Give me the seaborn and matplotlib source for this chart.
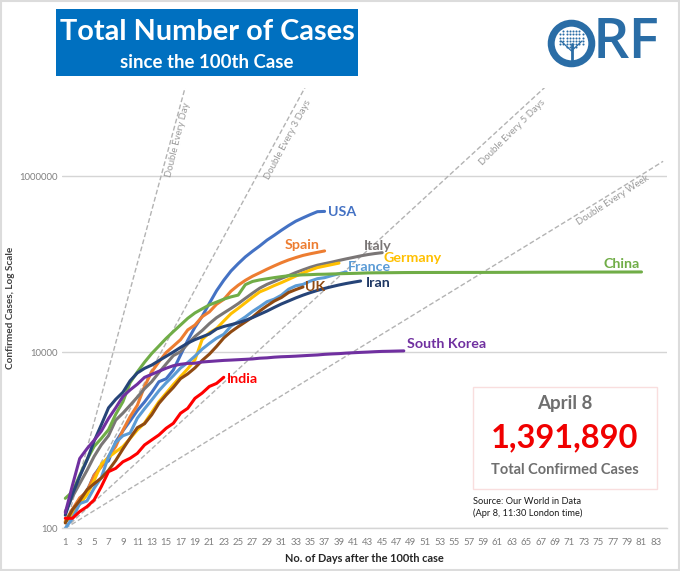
import numpy as np
import pandas as pd
import matplotlib.pyplot as plt
from matplotlib.patches import Rectangle, Circle
import seaborn as sns

# confirmed cases per day since the 100th case
usa = [118, 149, 217, 262, 402, 518, 583, 959, 1281, 1663, 2179, 2727, 3499, 4632, 5000, 6300, 9300, 13700,
       19273, 25600, 36000, 50000, 65778, 83836, 101657, 121478, 140886, 161807, 188172, 213372, 243453,
       275586, 308850, 337072, 366667, 396223, 399000]
spain = [120, 165, 222, 259, 400, 500, 650, 850, 1300, 1860, 2500, 4100, 6000, 7798, 9942, 11748, 13910, 17963,
         20410, 25374, 28768, 35136, 39885, 49515, 57786, 65719, 73235, 80110, 87956, 95923, 104118, 112065,
         119199, 126168, 131646, 136675, 141942]
italy = [155, 229, 322, 453, 655, 888, 1128, 1694, 2036, 2502, 3089, 3858, 4636, 5883, 7375, 9172, 10149, 12462,
         15113, 17660, 21157, 24747, 27980, 31506, 35713, 41035, 47021, 53578, 59138, 63927, 69176, 74386,
         80589, 86498, 92472, 97689, 101739, 105792, 110574, 115242, 119827, 124632, 128948, 132547, 135586]
germany = [117, 150, 188, 240, 349, 534, 640, 740, 850, 1050, 1310, 1570, 2080, 2750, 3430, 4300, 5300, 6500,
           8200, 13957, 16662, 18610, 22672, 27436, 31554, 36508, 42288, 48582, 52547, 57298, 61913, 67366,
           73522, 79696, 85778, 91714, 95391, 99225, 103228]
france = [100, 130, 191, 204, 285, 377, 653, 949, 1126, 1209, 1784, 2281, 2876, 3661, 4499, 5423, 6633, 7652,
          9043, 10871, 12612, 14459, 16018, 19856, 22304, 25233, 29155, 32964, 37575, 40174, 44550, 52128,
          56989, 59105, 64338, 68605, 70478, 74390, 78167, 82048]
uk = [115, 163, 206, 273, 321, 373, 456, 590, 797, 1061, 1391, 1543, 1950, 2626, 3269, 3983, 5018, 5683, 6650,
      8077, 9529, 11658, 14543, 17089, 19522, 22141, 25150, 29474, 33718, 38168, 41903, 47806, 51608, 55242]
iran = [141, 245, 388, 593, 978, 1501, 2336, 2922, 3513, 4747, 5823, 6566, 7161, 8042, 9000, 10075, 11364, 12729,
        13938, 14991, 16169, 18407, 19644, 20610, 21638, 23049, 24811, 27017, 29406, 32332, 35408, 38309,
        41495, 44605, 47593, 50468, 53183, 55743, 58226, 60500, 62589, 64586]
china = [219, 260, 400, 600, 850, 1050, 1320, 1975, 2744, 4515, 5974, 7711, 9692, 11791, 14380, 17205, 20438,
         24324, 28018, 31161, 34546, 37198, 40171, 42638, 44653, 58761, 63851, 66492, 68500, 70548, 72436,
         74185, 75002, 75891, 76288, 76936, 77150, 77658, 78064, 78497, 78824, 79251, 79824, 80026, 80151,
         80271, 80422, 80573, 80652, 80699, 80735, 80757, 80793, 80813, 80824, 80844, 80860, 80881, 80894,
         80928, 80967, 81008, 81054, 81093, 81171, 81218, 81285, 81340, 81394, 81439, 81470, 81518, 81554,
         81589, 81620, 81639, 81669, 81708, 81740, 81802, 81865]
korea = [150, 310, 620, 800, 1000, 1270, 1770, 2340, 3150, 3740, 4340, 5190, 5620, 6090, 6590, 7040, 7310, 7480,
         7510, 7760, 7870, 7980, 8090, 8160, 8240, 8320, 8410, 8570, 8650, 8800, 8900, 8960, 9040, 9140, 9240,
         9330, 9480, 9580, 9660, 9790, 9890, 9980, 10060, 10160, 10240, 10280, 10330, 10380]
india = [130, 130, 155, 176, 210, 298, 440, 480, 570, 625, 710, 885, 1010, 1150, 1370, 1560, 2030, 2310, 3000,
         3440, 4090, 4430, 5200]

# guide lines, one point per doubling
guide_day_x = [1, 18]
guide_day_y = [100, 13107200]
guide_2d_x = [1, 3, 5, 7, 9, 11, 13, 15, 17, 19, 21, 23, 25, 27, 29, 31, 33, 35]
guide_2d_y = [100, 200, 400, 800, 1600, 3200, 6400, 12800, 25600, 51200, 102400, 204800, 409600, 819200,
              1638400, 3276800, 6553600, 13107200]
guide_4d_x = [1, 5, 9, 13, 17, 21, 25, 29, 33, 37, 41, 45, 49, 53, 57, 61, 65, 69]
guide_4d_y = [100, 200, 400, 800, 1600, 3200, 6400, 12800, 25600, 51200, 102400, 204800, 409600, 819200,
              1638400, 3276800, 6553600, 13107200]
guide_6d_x = [1, 7, 13, 19, 25, 31, 37, 43, 49, 55, 61, 67, 73, 79, 84]
guide_6d_y = [100, 200, 400, 800, 1600, 3200, 6400, 12800, 25600, 51200, 102400, 204800, 409600, 819200, 1480000]

x_ticks = list(range(1, 84, 2))
y_ticks = [100, 10000, 1000000]
y_tick_labels = ['100', '10000', '1000000']

sns.set_theme(style='white')
plt.rcParams['font.family'] = ['Lato', 'DejaVu Sans']

fig = plt.figure(figsize=(6.8, 5.71), dpi=100)
ax = fig.add_axes([61.7 / 680, (571 - 528.3) / 571, 605 / 680, 440 / 571])

for gx, gy in [(guide_day_x, guide_day_y), (guide_2d_x, guide_2d_y),
               (guide_4d_x, guide_4d_y), (guide_6d_x, guide_6d_y)]:
    sns.lineplot(x=gx, y=gy, color='#b3b3b3', lw=1, ax=ax, estimator=None, sort=False,
                 linestyle=(0, (3.5, 1.8)))

series = [(usa, '#4472C4'), (spain, '#ED7D31'), (italy, '#7A7676'), (germany, '#FFC000'),
          (france, '#5B9BD5'), (uk, '#8F4A12'), (china, '#70AD47'), (iran, '#264478'),
          (korea, '#7030A0'), (india, '#FF0000')]
for vals, col in series:
    d = pd.DataFrame({'day': range(1, len(vals) + 1), 'cases': vals})
    sns.lineplot(data=d, x='day', y='cases', color=col, lw=2.2, ax=ax, estimator=None)

ax.set_yscale('log')
ax.set_xlim(0.5, 84.5)
ax.set_ylim(100, 1e7)
ax.set_xticks(x_ticks)
ax.set_yticks(y_ticks)
ax.set_yticklabels(y_tick_labels)
ax.minorticks_off()
ax.tick_params(axis='both', length=0, labelsize=6.9, labelcolor='#7f7f7f')
ax.tick_params(axis='x', pad=7)
ax.tick_params(axis='y', pad=3)
ax.grid(axis='y', color='#d5d5d5', lw=1)
ax.set_axisbelow(True)
sns.despine(ax=ax, left=True)
ax.spines['bottom'].set_color('#d5d5d5')
ax.spines['bottom'].set_linewidth(1)
ax.set_xlabel('No. of Days after the 100th case', fontsize=7.9, fontweight='bold', color='#262626')
ax.set_ylabel('Confirmed Cases, Log Scale', fontsize=7.2, fontweight='bold', color='#404040')
ax.xaxis.set_label_coords(0.5, -0.056)
ax.yaxis.set_label_coords(-0.077, 0.5)

# overlay in pixel coordinates for the title, labels and logo
ov = fig.add_axes([0, 0, 1, 1], facecolor='none')
ov.set_xlim(0, 680)
ov.set_ylim(571, 0)
ov.axis('off')

ov.add_patch(Rectangle((0.5, 0.5), 678, 569, fc='none', ec='#dcdcdc', lw=1.5))
ov.add_patch(Rectangle((56, 8.7), 301.5, 67.3, fc='#0070C0', ec='none'))
ov.text(207, 31.5, 'Total Number of Cases', color='white', fontsize=20.8, fontweight='bold', ha='center', va='center')
ov.text(207, 62.5, 'since the 100th Case', color='white', fontsize=13.4, fontweight='bold', ha='center', va='center')

# logo
logo = '#2A6DA6'
ov.add_patch(Circle((571.5, 43.5), 20.3, fc='white', ec=logo, lw=5))
gx, gy = np.meshgrid(np.arange(557, 587, 3.2), np.arange(28, 50, 3.2))
keep = (gx - 571.5) ** 2 + ((gy - 38.5) / 0.75) ** 2 < 14 ** 2
ov.scatter(gx[keep], gy[keep], s=2.2, color=logo, lw=0)
ov.plot([571.5, 571.5], [44, 60], color=logo, lw=2)
ov.plot([561, 571.5, 582], [41, 51, 41], color=logo, lw=0.9)
ov.text(593, 44, 'RF', color=logo, fontsize=41, fontweight='semibold', ha='left', va='center',
        family=['Open Sans', 'DejaVu Sans'])

# series labels
labels = [('USA', 342, 212, '#4472C4'), ('Spain', 302.5, 245, '#ED7D31'), ('Italy', 377.5, 246, '#7A7676'),
          ('Germany', 413, 258, '#FFC000'), ('France', 369.5, 267, '#5B9BD5'), ('Iran', 378, 283, '#1F3864'),
          ('UK', 315, 287, '#8F4A12'), ('China', 621.5, 264, '#70AD47'), ('South Korea', 447, 344, '#7030A0'),
          ('India', 242, 379, '#FF0000')]
for txt, px, py, col in labels:
    ov.text(px, py, txt, color=col, fontsize=10.3, fontweight='bold', ha='center', va='center')

# guide line labels
for txt, px, py, rot in [('Double Every Day', 178, 140, 76), ('Double Every 3 Days', 288, 140, 62),
                         ('Double Every 5 Days', 512, 132, 45), ('Double Every Week', 613, 200, 33)]:
    ov.text(px, py, txt, color='#9a9a9a', fontsize=6.9, rotation=rot, rotation_mode='anchor',
            ha='center', va='center')

# total box
ov.add_patch(Rectangle((472.7, 386.7), 184.6, 102.3, fc='white', ec='#f9dede', lw=1))
ov.text(565, 403.5, 'April 8', color='#6f6f6f', fontsize=13.5, fontweight='bold', ha='center', va='center')
ov.text(565, 438, '1,391,890', color='#F00000', fontsize=23.5, fontweight='bold', ha='center', va='center')
ov.text(565, 470, 'Total Confirmed Cases', color='#6f6f6f', fontsize=10.5, fontweight='bold', ha='center', va='center')
ov.text(472.7, 501, 'Source: Our World in Data', color='#1a1a1a', fontsize=6.7, ha='left', va='center')
ov.text(472.7, 513.5, '(Apr 8, 11:30 London time)', color='#1a1a1a', fontsize=6.7, ha='left', va='center')

fig.savefig('out.png', dpi=100)
